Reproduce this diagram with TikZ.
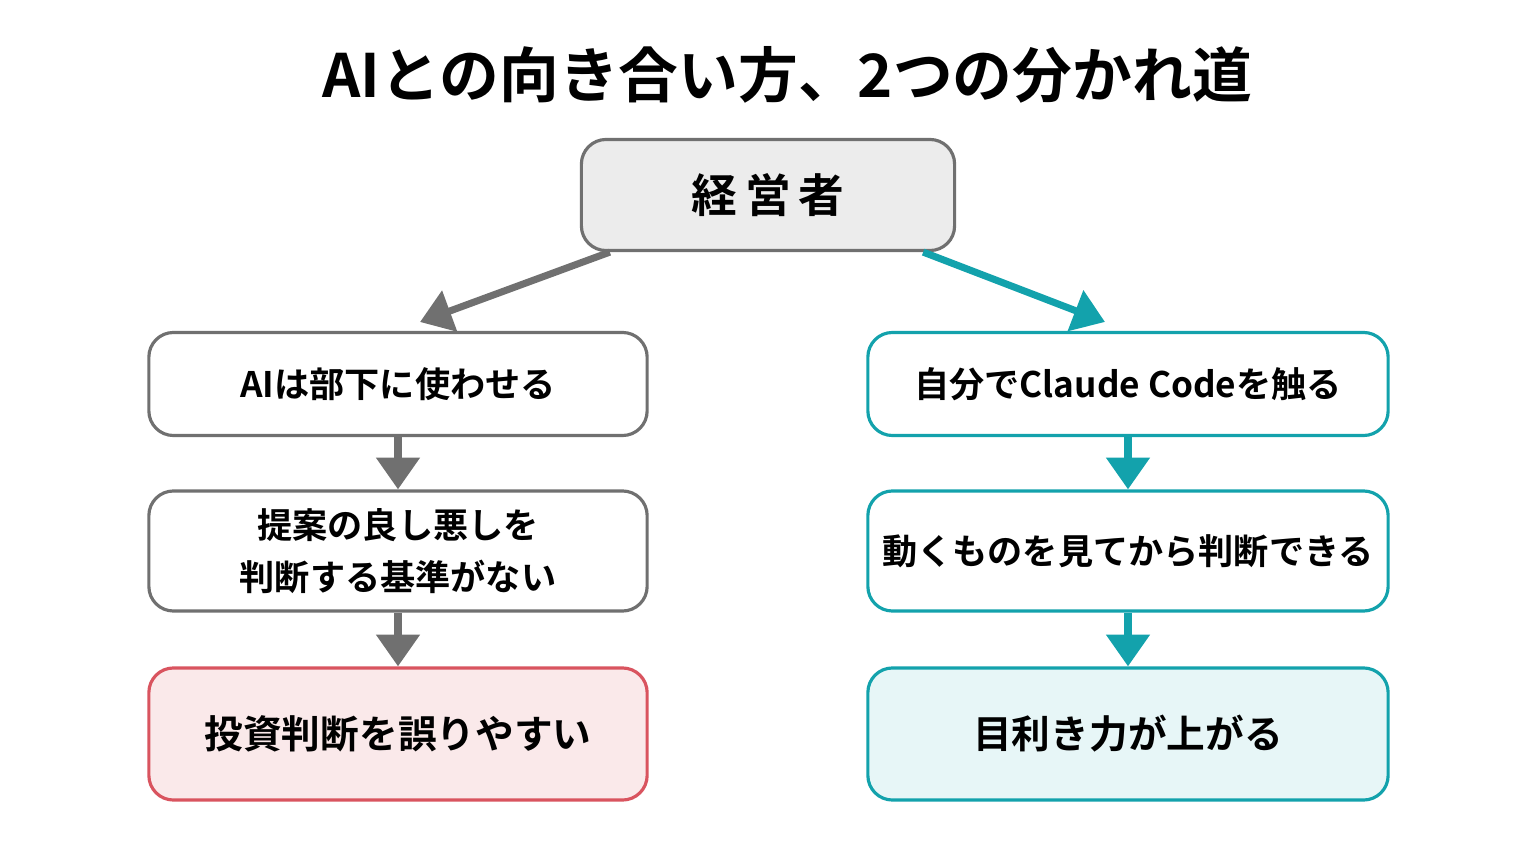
\documentclass[tikz,border=0pt]{standalone}
\usepackage{fontspec}
\setmainfont{Noto Sans CJK JP}[BoldFont={Noto Sans CJK JP Bold}]
\usetikzlibrary{arrows.meta,positioning}
\definecolor{grayline}{HTML}{707070}
\definecolor{tealline}{HTML}{13A2AC}
\definecolor{redline}{HTML}{D9545F}
\tikzset{
  box/.style={draw, rounded corners=7pt, line width=0.9pt, align=center, font=\bfseries\fontsize{10}{15}\selectfont, fill=white},
  graybox/.style={box, draw=grayline},
  tealbox/.style={box, draw=tealline},
  arr/.style={line width=2pt, -{Triangle[length=9pt,width=12pt]}}
}
\begin{document}
\begin{tikzpicture}[x=0.01cm,y=-0.01cm]
  \useasboundingbox (0,0) rectangle (1536,864);
  % Title
  \node (title) at (787,75) {\bfseries\fontsize{17}{20}\selectfont AIとの向き合い方、2つの分かれ道};
  % Top
  \node[graybox, fill=gray!15, minimum width=3.73cm, minimum height=1.11cm, font=\bfseries\fontsize{13}{15}\selectfont] (ceo) at (768,195) {経\,営\,者};
  % Left column
  \node[graybox, minimum width=4.98cm, minimum height=1.03cm] (l1) at (398,384) {AIは部下に使わせる};
  \node[graybox, minimum width=4.98cm, minimum height=1.20cm] (l2) at (398,551) {提案の良し悪しを\\判断する基準がない};
  \node[box, draw=redline, fill=redline!13, minimum width=4.98cm, minimum height=1.32cm, font=\bfseries\fontsize{11}{15}\selectfont] (l3) at (398,734) {投資判断を誤りやすい};
  % Right column
  \node[tealbox, minimum width=5.20cm, minimum height=1.03cm] (r1) at (1128,384) {自分でClaude Codeを触る};
  \node[tealbox, minimum width=5.20cm, minimum height=1.20cm] (r2) at (1128,551) {動くものを見てから判断できる};
  \node[tealbox, fill=tealline!10, minimum width=5.20cm, minimum height=1.32cm, font=\bfseries\fontsize{11}{15}\selectfont] (r3) at (1128,734) {目利き力が上がる};
  % Arrows
  \coordinate (lt) at (420,322);
  \coordinate (rt) at (1105,322);
  \draw[arr, grayline] (ceo.south west) ++(30,0) -- (lt);
  \draw[arr, tealline] (ceo.south east) ++(-33,0) -- (rt);
  \draw[arr, grayline] (l1) -- (l2);
  \draw[arr, grayline] (l2) -- (l3);
  \draw[arr, tealline] (r1) -- (r2);
  \draw[arr, tealline] (r2) -- (r3);
\end{tikzpicture}
\end{document}
